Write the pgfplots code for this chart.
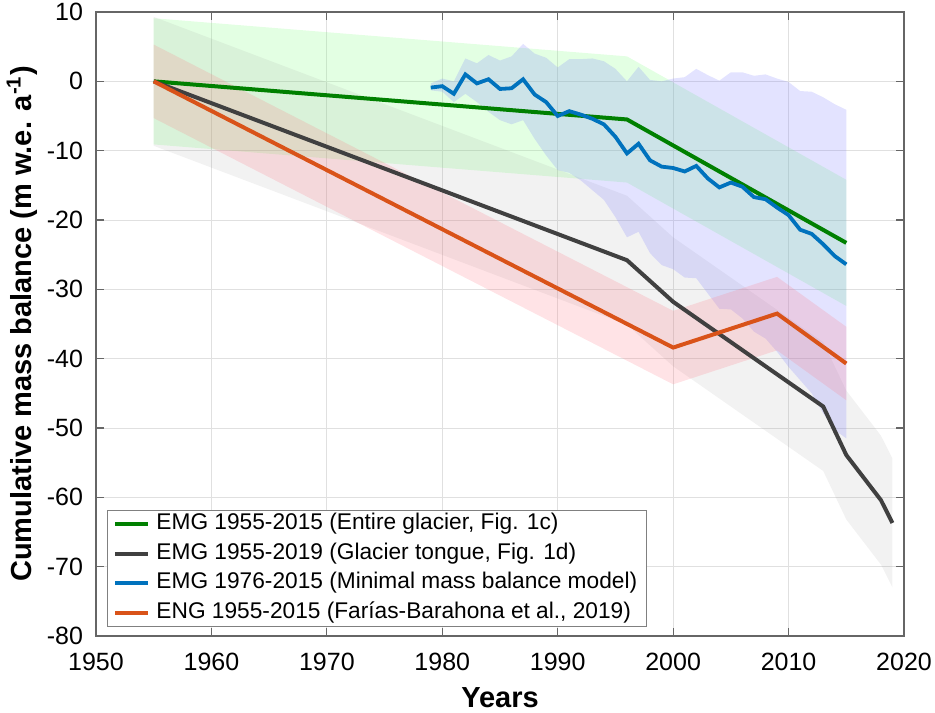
\documentclass[border=0pt]{standalone}
\usepackage{pgfplots}
\pgfplotsset{compat=1.18}
\usepackage{fontspec}
\setmainfont{Liberation Sans}
\definecolor{cgreen}{rgb}{0,0.5,0}
\definecolor{cgray}{rgb}{0.25,0.25,0.25}
\definecolor{cblue}{rgb}{0,0.447,0.741}
\definecolor{corange}{rgb}{0.85,0.325,0.098}
\definecolor{bgreen}{rgb}{0.45,1,0.45}
\definecolor{bgray}{rgb}{0.5,0.5,0.5}
\definecolor{bblue}{rgb}{0.45,0.45,1}
\definecolor{bpink}{rgb}{1,0.45,0.5}
\begin{document}
\begin{tikzpicture}
\begin{axis}[
  scale only axis, width=404pt, height=312pt,
  xmin=1950, xmax=2020, ymin=-80, ymax=10,
  xtick={1950,1960,...,2020}, ytick={-80,-70,...,10},
  grid=major, major grid style={black!12, line width=0.4pt},
  tick align=inside, tick pos=both, major tick length=4pt,
  axis line style={black!60, line width=0.6pt},
  tick style={black!60, line width=0.6pt},
  /pgf/number format/assume math mode=true,
  /pgf/number format/1000 sep={},
  ticklabel style={font=\fontsize{12.5}{14}\selectfont},
  xticklabel style={yshift=-5pt},
  yticklabel style={xshift=-3pt},
  xlabel={Years},
  ylabel={Cumulative mass balance (m w.e. a\textsuperscript{-1})},
  label style={font=\fontsize{14.5}{17}\selectfont\bfseries},
  xlabel style={yshift=-1.5pt},
  ylabel shift=-2pt,
  legend cell align=left,
  legend style={at={(rel axis cs:0.0136,0.0144)}, anchor=south west,
    draw=black!50, line width=0.5pt, fill=white, font=\fontsize{11.35}{13}\selectfont,
    inner xsep=3pt, inner ysep=0pt, row sep=1.5pt, column sep=1.5pt,
    nodes={inner sep=1.5pt, text height=8pt, text depth=2.4pt}},
  legend image code/.code={\draw[#1, line width=2pt] (0pt,0pt) -- (16.5pt,0pt);},
]
% bands
\addplot[draw=none, fill=bgreen, fill opacity=0.2, forget plot] coordinates {
 (1955,9.1) (1996,3.6) (2015,-14.2) (2015,-32.4) (1996,-14.6) (1955,-9.1)} -- cycle;
\addplot[draw=none, fill=bgray, fill opacity=0.1, forget plot] coordinates {
 (1955,9.3) (1996,-16.5) (2000,-22.5) (2013,-37.6) (2015,-44.6) (2018,-51.1) (2019,-54.4)
 (2019,-73.0) (2018,-69.7) (2015,-63.2) (2013,-56.2) (2000,-41.1) (1996,-35.1) (1955,-9.3)} -- cycle;
\addplot[draw=none, fill=bblue, fill opacity=0.2, forget plot] coordinates {
 (1979,-0.3) (1980,0.4) (1981,0.0) (1982,3.3) (1983,2.6) (1984,3.8) (1985,3.0) (1986,3.6)
 (1987,5.4) (1988,4.0) (1989,3.4) (1990,2.0) (1991,3.2) (1992,3.2) (1993,3.3) (1994,2.9)
 (1995,1.8) (1996,0.0) (1997,2.1) (1998,0.2) (1999,0.0) (2000,0.4) (2001,0.6) (2002,1.8)
 (2003,0.9) (2004,0.1) (2005,1.3) (2006,1.3) (2007,0.8) (2008,1.0) (2009,0.4) (2010,-0.1)
 (2011,-1.4) (2012,-1.5) (2013,-2.3) (2014,-3.3) (2015,-4.1)
 (2015,-51.5) (2014,-50.3) (2013,-47.9) (2012,-45.0) (2011,-43.1) (2010,-41.2) (2009,-39.0)
 (2008,-37.1) (2007,-36.1) (2006,-34.2) (2005,-32.9) (2004,-32.8) (2003,-30.6) (2002,-28.4)
 (2001,-28.3) (2000,-27.1) (1999,-26.5) (1998,-24.8) (1997,-21.7) (1996,-22.5) (1995,-19.6)
 (1994,-17.1) (1993,-15.7) (1992,-14.3) (1991,-13.2) (1990,-12.8) (1989,-10.7) (1988,-8.3)
 (1987,-5.6) (1986,-6.2) (1985,-5.6) (1984,-4.4) (1983,-3.0) (1982,-1.8) (1981,-3.0)
 (1980,-1.5) (1979,-1.3)} -- cycle;
\addplot[draw=none, fill=bpink, fill opacity=0.2, forget plot] coordinates {
 (1955,5.3) (2000,-33.1) (2009,-28.2) (2015,-35.4) (2015,-46.0) (2009,-38.8) (2000,-43.7) (1955,-5.3)} -- cycle;
% lines
\addplot[cgreen, line width=2pt] coordinates {(1955,0) (1996,-5.5) (2015,-23.3)};
\addlegendentry{EMG 1955-2015 (Entire glacier, Fig. 1c)}
\addplot[cgray, line width=2pt] coordinates {(1955,0) (1996,-25.8) (2000,-31.8) (2013,-46.9) (2015,-53.9) (2018,-60.4) (2019,-63.7)};
\addlegendentry{EMG 1955-2019 (Glacier tongue, Fig. 1d)}
\addplot[cblue, line width=1.9pt] coordinates {
 (1979,-0.9) (1980,-0.7) (1981,-1.8) (1982,1.0) (1983,-0.3) (1984,0.3) (1985,-1.1) (1986,-1.0)
 (1987,0.3) (1988,-1.9) (1989,-3.0) (1990,-5.0) (1991,-4.3) (1992,-4.8) (1993,-5.4) (1994,-6.2)
 (1995,-8.0) (1996,-10.4) (1997,-9.0) (1998,-11.4) (1999,-12.3) (2000,-12.5) (2001,-13.0)
 (2002,-12.2) (2003,-14.0) (2004,-15.3) (2005,-14.6) (2006,-15.2) (2007,-16.7) (2008,-17.0)
 (2009,-18.2) (2010,-19.3) (2011,-21.4) (2012,-22.0) (2013,-23.5) (2014,-25.2) (2015,-26.4)};
\addlegendentry{EMG 1976-2015 (Minimal mass balance model)}
\addplot[corange, line width=2pt] coordinates {(1955,0) (2000,-38.4) (2009,-33.5) (2015,-40.7)};
\addlegendentry{ENG 1955-2015 (Farías-Barahona et al., 2019)}
\end{axis}
\pgfresetboundingbox
\path ([shift={(-48pt,-38pt)}]current axis.south west) rectangle ([shift={(15.5pt,6pt)}]current axis.north east);
\end{tikzpicture}
\end{document}
